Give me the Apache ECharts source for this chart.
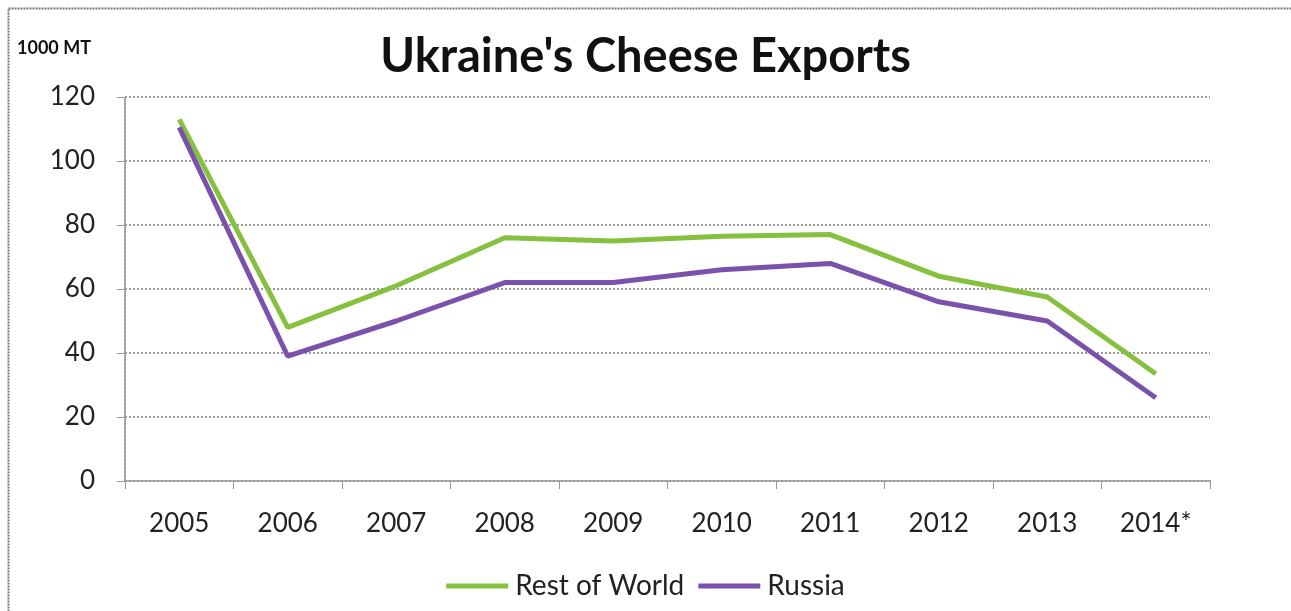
<!DOCTYPE html>
<html><head><meta charset="utf-8">
<script src="https://cdn.jsdelivr.net/npm/echarts@6/dist/echarts.min.js"></script>
<style>html,body{margin:0;padding:0;background:#fff}#c{width:1291px;height:611px}</style>
</head><body><div id="c"></div>
<script>
const years = ['2005','2006','2007','2008','2009','2010','2011','2012','2013','2014*'];
const restOfWorld = [113, 48, 61, 76, 75, 76.5, 77, 64, 57.5, 33.5];
const russia = [110.5, 39, 50, 62, 62, 66, 68, 56, 50, 26];
const yTicks = [0, 20, 40, 60, 80, 100, 120];

const chart = echarts.init(document.getElementById('c'));
const font = 'Lato, "Open Sans", sans-serif';
chart.setOption({
  backgroundColor: '#fff',
  animation: false,
  graphic: [
    {type:'rect', shape:{x:8.5,y:8.5,width:1300,height:620}, style:{fill:'none', stroke:'#777', lineWidth:2, lineDash:[2,1]}},
    {type:'text', left:17, top:39, style:{text:'1000 MT', font:'bold 18px ' + font, fill:'#111'}}
  ],
  title: {
    text: "Ukraine's Cheese Exports", left: 'center', top: 28,
    textStyle: {fontFamily: font, fontWeight: 'bold', fontSize: 47, color: '#111'}
  },
  legend: {
    top: 567, left: 'center', itemWidth: 62, itemHeight: 5, itemGap: 14,
    textStyle: {fontFamily: font, fontSize: 28, color: '#222', padding: [0,0,0,2]},
    data: [{name:'Rest of World', icon:'rect'}, {name:'Russia', icon:'rect'}]
  },
  grid: {left: 125, right: 81, top: 97, bottom: 130},
  xAxis: {
    type: 'category', data: years, boundaryGap: true,
    axisLine: {lineStyle: {color: '#999', type: 'dotted', width: 2}},
    axisTick: {show: true, length: 8, lineStyle: {color: '#999'}},
    axisLabel: {fontFamily: font, fontSize: 26, color: '#222', margin: 30}
  },
  yAxis: {
    type: 'value', min: 0, max: 120, interval: 20,
    axisLine: {show: true, lineStyle: {color: '#999', type: 'dotted', width: 2}},
    axisTick: {show: true, length: 8, lineStyle: {color: '#999'}},
    axisLabel: {fontFamily: font, fontSize: 26, color: '#222', margin: 30,
      formatter: v => yTicks.includes(v) ? String(v) : ''},
    splitLine: {lineStyle: {color: '#999', type: 'dotted', width: 2}}
  },
  series: [
    {name:'Rest of World', type:'line', data: restOfWorld, symbol:'none',
     lineStyle:{width:5, color:'#86C03F'}, itemStyle:{color:'#86C03F'}},
    {name:'Russia', type:'line', data: russia, symbol:'none',
     lineStyle:{width:5, color:'#7B52AB'}, itemStyle:{color:'#7B52AB'}}
  ]
});
</script></body></html>
